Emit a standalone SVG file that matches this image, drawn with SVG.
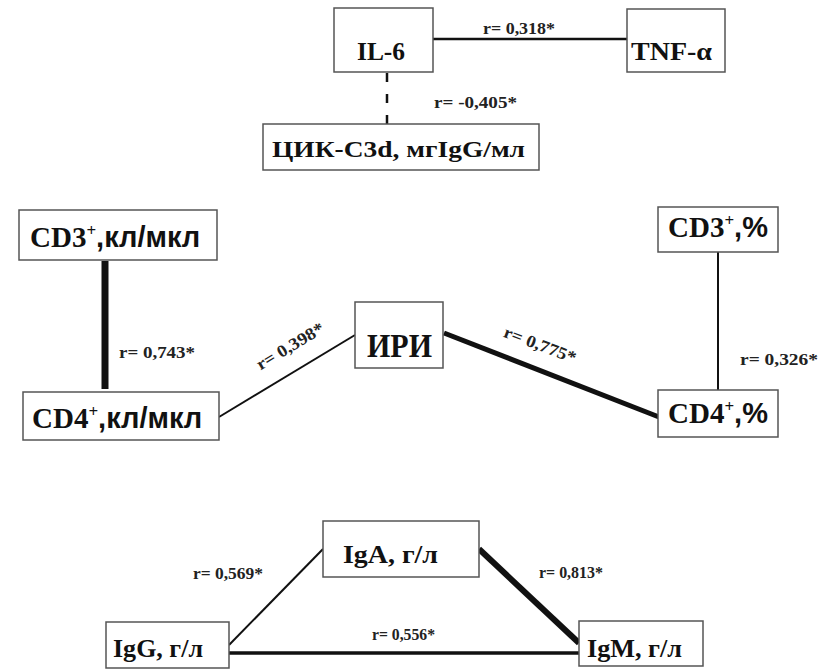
<svg xmlns="http://www.w3.org/2000/svg" width="838" height="669" viewBox="0 0 838 669">
<style>
.box{fill:#fff;stroke:#555;stroke-width:1.5}
.t{font-family:"Liberation Serif","Times New Roman",serif;font-weight:bold;fill:#111}
.s{font-family:"Liberation Sans",Arial,sans-serif;font-weight:bold;fill:#111}
.lbl{font-family:"Liberation Serif","Times New Roman",serif;font-weight:bold;font-size:17px;fill:#222}
.ln{stroke:#111;fill:none}
</style>
<rect width="838" height="669" fill="#fff"/>
<g id="connectors">
<line class="ln" x1="433" y1="39" x2="627" y2="39" stroke-width="2.5"/>
<line class="ln" x1="387" y1="73" x2="387" y2="124" stroke-width="2.5" stroke-dasharray="9,12"/>
<line class="ln" x1="105" y1="261" x2="105" y2="389" stroke-width="7"/>
<line class="ln" x1="219" y1="417" x2="355" y2="335" stroke-width="2"/>
<line class="ln" x1="444" y1="333" x2="659" y2="417" stroke-width="5"/>
<line class="ln" x1="718" y1="252" x2="718" y2="390" stroke-width="2"/>
<line class="ln" x1="229" y1="645" x2="323" y2="549" stroke-width="2"/>
<line class="ln" x1="479" y1="549" x2="579" y2="643" stroke-width="6"/>
<line class="ln" x1="229" y1="653" x2="579" y2="653" stroke-width="3.5"/>
<text class="lbl" x="483" y="34" textLength="72" lengthAdjust="spacingAndGlyphs">r= 0,318*</text>
<text class="lbl" x="434" y="108" textLength="83" lengthAdjust="spacingAndGlyphs">r= -0,405*</text>
<text class="lbl" x="119" y="358" textLength="76" lengthAdjust="spacingAndGlyphs">r= 0,743*</text>
<text class="lbl" transform="translate(293,351) rotate(-31)" x="-38" y="0" textLength="76" lengthAdjust="spacingAndGlyphs">r= 0,398*</text>
<text class="lbl" transform="translate(538,350) rotate(21)" x="-38" y="0" textLength="76" lengthAdjust="spacingAndGlyphs">r= 0,775*</text>
<text class="lbl" x="740" y="365" textLength="78" lengthAdjust="spacingAndGlyphs">r= 0,326*</text>
<text class="lbl" x="193" y="579" textLength="70" lengthAdjust="spacingAndGlyphs">r= 0,569*</text>
<text class="lbl" x="539" y="578" textLength="64" lengthAdjust="spacingAndGlyphs">r= 0,813*</text>
<text class="lbl" x="372" y="640" textLength="63" lengthAdjust="spacingAndGlyphs">r= 0,556*</text>
</g>
<g id="il6">
<rect class="box" x="334" y="8" width="99" height="64"/>
<text class="t" x="357" y="60" font-size="25" textLength="48" lengthAdjust="spacingAndGlyphs">IL-6</text>
</g>
<g id="tnf">
<rect class="box" x="627" y="9" width="98" height="63"/>
<text class="t" x="631" y="60" font-size="25" textLength="81" lengthAdjust="spacingAndGlyphs">TNF-α</text>
</g>
<g id="cik">
<rect class="box" x="263" y="124" width="276" height="46"/>
<text class="t" x="272" y="157" font-size="24" textLength="253" lengthAdjust="spacingAndGlyphs">ЦИК-C3d, мгIgG/мл</text>
</g>
<g id="cd3abs">
<rect class="box" x="19" y="210" width="198" height="50"/>
<text x="30" y="247" font-size="29"><tspan class="t">CD3</tspan><tspan class="t" font-size="17" dy="-11">+</tspan><tspan class="s" dy="11">,кл/мкл</tspan></text>
</g>
<g id="cd4abs">
<rect class="box" x="23" y="392" width="196" height="48"/>
<text x="32" y="428" font-size="29"><tspan class="t">CD4</tspan><tspan class="t" font-size="17" dy="-11">+</tspan><tspan class="s" dy="11">,кл/мкл</tspan></text>
</g>
<g id="iri">
<rect class="box" x="355" y="302" width="88" height="66"/>
<text class="t" x="367" y="357" font-size="34" textLength="65" lengthAdjust="spacingAndGlyphs">ИРИ</text>
</g>
<g id="cd3pct">
<rect class="box" x="658" y="207" width="120" height="45"/>
<text x="668" y="237" font-size="29"><tspan class="t">CD3</tspan><tspan class="t" font-size="17" dy="-11">+</tspan><tspan class="s" dy="11">,%</tspan></text>
</g>
<g id="cd4pct">
<rect class="box" x="658" y="390" width="120" height="47"/>
<text x="668" y="423" font-size="29"><tspan class="t">CD4</tspan><tspan class="t" font-size="17" dy="-11">+</tspan><tspan class="s" dy="11">,%</tspan></text>
</g>
<g id="iga">
<rect class="box" x="323" y="521" width="156" height="56"/>
<text class="t" x="343" y="563" font-size="26" textLength="95" lengthAdjust="spacingAndGlyphs">IgA, г/л</text>
</g>
<g id="igg">
<rect class="box" x="106" y="622" width="123" height="46"/>
<text class="t" x="113" y="657" font-size="26" textLength="90" lengthAdjust="spacingAndGlyphs">IgG, г/л</text>
</g>
<g id="igm">
<rect class="box" x="579" y="621" width="124" height="45"/>
<text class="t" x="587" y="657" font-size="26" textLength="95" lengthAdjust="spacingAndGlyphs">IgM, г/л</text>
</g>
</svg>
